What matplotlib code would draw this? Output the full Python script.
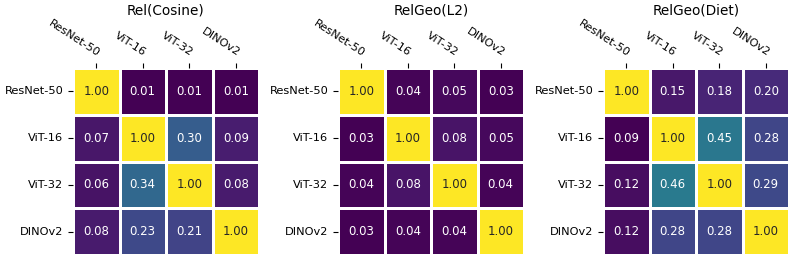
import numpy as np
import matplotlib
matplotlib.use("Agg")
import matplotlib.pyplot as plt
import seaborn as sns

# -----------------------------
# Data
# -----------------------------
models = ["ResNet-50", "ViT-16", "ViT-32", "DINOv2"]

rel_cosine = [
    [1.00, 0.01, 0.01, 0.01],
    [0.07, 1.00, 0.30, 0.09],
    [0.06, 0.34, 1.00, 0.08],
    [0.08, 0.23, 0.21, 1.00],
]

relgeo_l2 = [
    [1.00, 0.04, 0.05, 0.03],
    [0.03, 1.00, 0.08, 0.05],
    [0.04, 0.08, 1.00, 0.04],
    [0.03, 0.04, 0.04, 1.00],
]

relgeo_diet = [
    [1.00, 0.15, 0.18, 0.20],
    [0.09, 1.00, 0.45, 0.28],
    [0.12, 0.46, 1.00, 0.29],
    [0.12, 0.28, 0.28, 1.00],
]

titles = ["Rel(Cosine)", "RelGeo(L2)", "RelGeo(Diet)"]
matrices = [rel_cosine, relgeo_l2, relgeo_diet]

# -----------------------------
# Plot
# -----------------------------
fig = plt.figure(figsize=(7.97, 2.63), dpi=100)
lefts = [73, 338, 603]
for left, mat, title in zip(lefts, matrices, titles):
    ax = fig.add_axes([left / 797, 8 / 263, 186 / 797, 187 / 263])
    sns.heatmap(np.array(mat), ax=ax, cmap="viridis", annot=True, fmt=".2f",
                cbar=False, linewidths=2, linecolor="white",
                xticklabels=models, yticklabels=models,
                annot_kws={"fontsize": 8.5})
    ax.xaxis.tick_top()
    ax.set_title(title, fontsize=9.8, pad=2)
    plt.setp(ax.get_xticklabels(), rotation=-33, ha="right",
             rotation_mode="anchor", fontsize=8.2)
    plt.setp(ax.get_yticklabels(), rotation=0, fontsize=8.2)

fig.savefig("out.png", dpi=100)
